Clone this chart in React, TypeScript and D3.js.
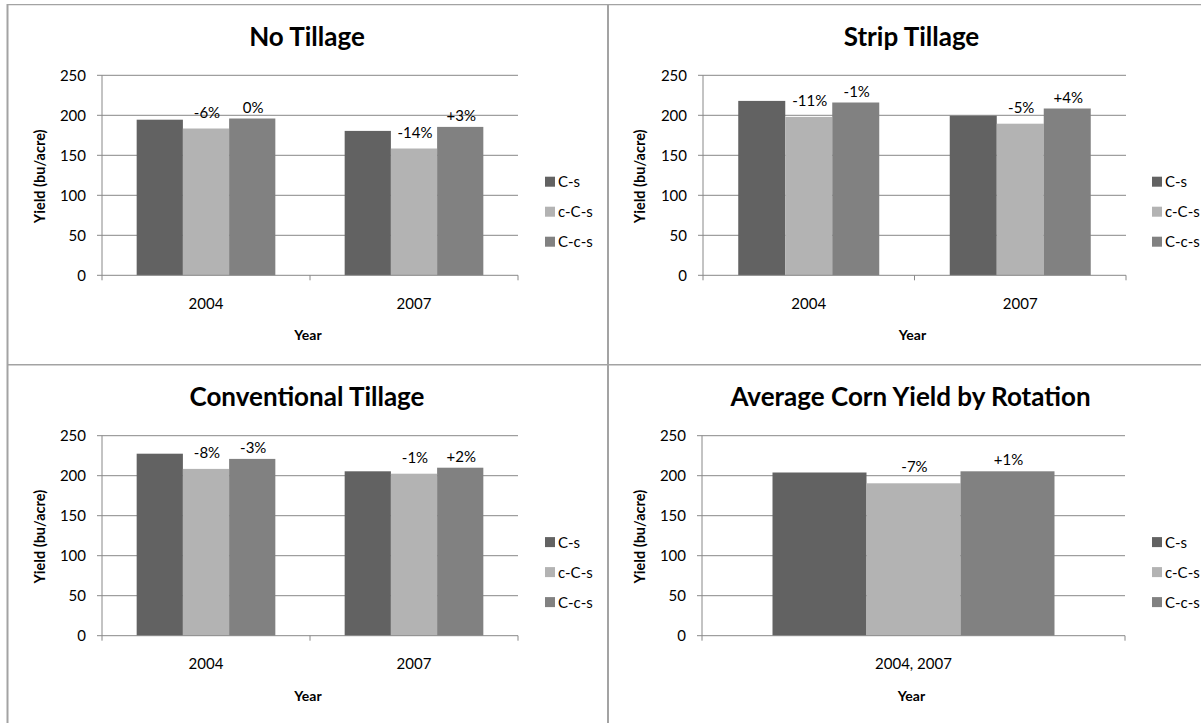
import React from "react";
import * as d3 from "d3";

// ---------- data ----------
const seriesNames = ["C-s", "c-C-s", "C-c-s"];
const seriesColors = ["#626262", "#b3b3b3", "#818181"];
const yTicks = [0, 50, 100, 150, 200, 250];

const noTillageYears = ["2004", "2007"];
const noTillageCs = [194.5, 180.5];
const noTillageCCs = [183.5, 158.5];
const noTillageCcs = [196, 185.5];
const noTillageLabels = [["", "-6%", "0%"], ["", "-14%", "+3%"]];

const stripTillageYears = ["2004", "2007"];
const stripTillageCs = [218, 199.5];
const stripTillageCCs = [198, 189.5];
const stripTillageCcs = [216, 208.5];
const stripTillageLabels = [["", "-11%", "-1%"], ["", "-5%", "+4%"]];

const convTillageYears = ["2004", "2007"];
const convTillageCs = [227.5, 205.5];
const convTillageCCs = [208.5, 202.5];
const convTillageCcs = [221, 210];
const convTillageLabels = [["", "-8%", "-3%"], ["", "-1%", "+2%"]];

const averageYears = ["2004, 2007"];
const averageCs = [204];
const averageCCs = [190.5];
const averageCcs = [205.5];
const averageLabels = [["", "-7%", "+1%"]];

const FONT = "Lato, 'Open Sans', sans-serif";
const labelGap = [8, 11, 6]; // px above bar top, per series

type PanelProps = {
  title: string;
  cats: string[];
  values: number[][]; // [series][cat]
  labels: string[][]; // [cat][series]
  plotL: number;
  plotR: number;
  top: number; // y of 250
  bottom: number; // y of 0
  legendX: number;
  yTitleX: number;
  titleY: number;
};

function Panel(p: PanelProps) {
  const y = d3.scaleLinear().domain([0, 250]).range([p.bottom, p.top]);
  const x0 = d3.scaleBand<string>().domain(p.cats).range([p.plotL, p.plotR]).padding(0);
  const x1 = d3
    .scaleBand<string>()
    .domain(seriesNames)
    .range([0, x0.bandwidth()])
    .paddingInner(0)
    .paddingOuter(0.75);
  const cx = (p.plotL + p.plotR) / 2;
  const boundaries = [p.plotL, ...p.cats.map((c) => (x0(c) as number) + x0.bandwidth())];
  const mid = (p.top + p.bottom) / 2;
  return (
    <g>
      <text
        x={cx - 3}
        y={p.titleY}
        textAnchor="middle"
        fontFamily={FONT}
        fontWeight="bold"
        fontSize={26}
        fill="#000"
      >
        {p.title}
      </text>
      {/* gridlines */}
      {yTicks.map((t) => (
        <g key={t}>
          {t > 0 && (
            <line x1={p.plotL} x2={p.plotR} y1={y(t)} y2={y(t)} stroke="#888" strokeWidth={1} />
          )}
          <line x1={p.plotL - 5} x2={p.plotL} y1={y(t)} y2={y(t)} stroke="#888" strokeWidth={1} />
          <text
            x={p.plotL - 16}
            y={y(t) + 5.5}
            textAnchor="end"
            fontFamily={FONT}
            fontSize={15}
            fill="#000"
          >
            {t}
          </text>
        </g>
      ))}
      {/* bars */}
      {p.cats.map((c, ci) => (
        <g key={c}>
          {seriesNames.map((s, si) => {
            const v = p.values[si][ci];
            const bx = (x0(c) as number) + (x1(s) as number);
            return (
              <rect
                key={s}
                x={bx}
                y={y(v)}
                width={x1.bandwidth()}
                height={y(0) - y(v)}
                fill={seriesColors[si]}
              />
            );
          })}
          {seriesNames.map((s, si) => {
            const lab = p.labels[ci][si];
            if (!lab) return null;
            const v = p.values[si][ci];
            const bx = (x0(c) as number) + (x1(s) as number) + x1.bandwidth() / 2;
            return (
              <text
                key={"l" + s}
                x={bx + 1}
                y={y(v) - labelGap[si]}
                textAnchor="middle"
                fontFamily={FONT}
                fontSize={15}
                fill="#000"
              >
                {lab}
              </text>
            );
          })}
          <text
            x={(x0(c) as number) + x0.bandwidth() / 2}
            y={p.bottom + 33.5}
            textAnchor="middle"
            fontFamily={FONT}
            fontSize={15}
            fill="#000"
          >
            {c}
          </text>
        </g>
      ))}
      {/* axes */}
      <line x1={p.plotL} x2={p.plotL} y1={p.top} y2={p.bottom} stroke="#888" strokeWidth={1} />
      <line x1={p.plotL} x2={p.plotR} y1={p.bottom} y2={p.bottom} stroke="#888" strokeWidth={1} />
      {boundaries.map((b, i) => (
        <line key={i} x1={b} x2={b} y1={p.bottom} y2={p.bottom + 5} stroke="#888" strokeWidth={1} />
      ))}
      <text
        x={cx - 2}
        y={p.bottom + 65}
        textAnchor="middle"
        fontFamily={FONT}
        fontWeight="bold"
        fontSize={14}
        fill="#000"
      >
        Year
      </text>
      <text
        transform={`translate(${p.yTitleX + 5},${mid + 1}) rotate(-90)`}
        textAnchor="middle"
        fontFamily={FONT}
        fontWeight="bold"
        fontSize={14.5}
        fill="#000"
      >
        Yield (bu/acre)
      </text>
      {/* legend */}
      {seriesNames.map((s, si) => {
        const ly = mid + 6.4 + si * 30;
        return (
          <g key={s}>
            <rect x={p.legendX} y={ly - 5} width={10} height={10} fill={seriesColors[si]} />
            <text x={p.legendX + 13} y={ly + 5.5} fontFamily={FONT} fontSize={15} fill="#000">
              {s}
            </text>
          </g>
        );
      })}
    </g>
  );
}

export default function App() {
  const topRow = { top: 75.3, bottom: 275.3, titleY: 46 };
  const dy = 360.4;
  return (
    <svg
      width={1201}
      height={723}
      style={{ position: "absolute", left: 0, top: 0, background: "#fff" }}
    >
      <rect x={0} y={0} width={1201} height={723} fill="#fff" />
      {/* frame lines */}
      <line x1={7} x2={1201} y1={4.6} y2={4.6} stroke="#a3a3a3" strokeWidth={1.4} />
      <line x1={7} x2={1201} y1={364.7} y2={364.7} stroke="#a3a3a3" strokeWidth={1.4} />
      <line x1={7.5} x2={7.5} y1={4} y2={723} stroke="#a3a3a3" strokeWidth={2} />
      <line x1={608} x2={608} y1={4} y2={723} stroke="#a3a3a3" strokeWidth={2} />

      <Panel
        title="No Tillage"
        cats={noTillageYears}
        values={[noTillageCs, noTillageCCs, noTillageCcs]}
        labels={noTillageLabels}
        plotL={102}
        plotR={518}
        top={topRow.top}
        bottom={topRow.bottom}
        legendX={545}
        yTitleX={40}
        titleY={topRow.titleY}
      />
      <Panel
        title="Strip Tillage"
        cats={stripTillageYears}
        values={[stripTillageCs, stripTillageCCs, stripTillageCcs]}
        labels={stripTillageLabels}
        plotL={703}
        plotR={1126}
        top={topRow.top}
        bottom={topRow.bottom}
        legendX={1152}
        yTitleX={640}
        titleY={topRow.titleY}
      />
      <Panel
        title="Conventional Tillage"
        cats={convTillageYears}
        values={[convTillageCs, convTillageCCs, convTillageCcs]}
        labels={convTillageLabels}
        plotL={102}
        plotR={518}
        top={topRow.top + dy}
        bottom={topRow.bottom + dy}
        legendX={545}
        yTitleX={40}
        titleY={topRow.titleY + dy}
      />
      <Panel
        title="Average Corn Yield by Rotation"
        cats={averageYears}
        values={[averageCs, averageCCs, averageCcs]}
        labels={averageLabels}
        plotL={702}
        plotR={1125}
        top={topRow.top + dy}
        bottom={topRow.bottom + dy}
        legendX={1152}
        yTitleX={640}
        titleY={topRow.titleY + dy}
      />
    </svg>
  );
}
